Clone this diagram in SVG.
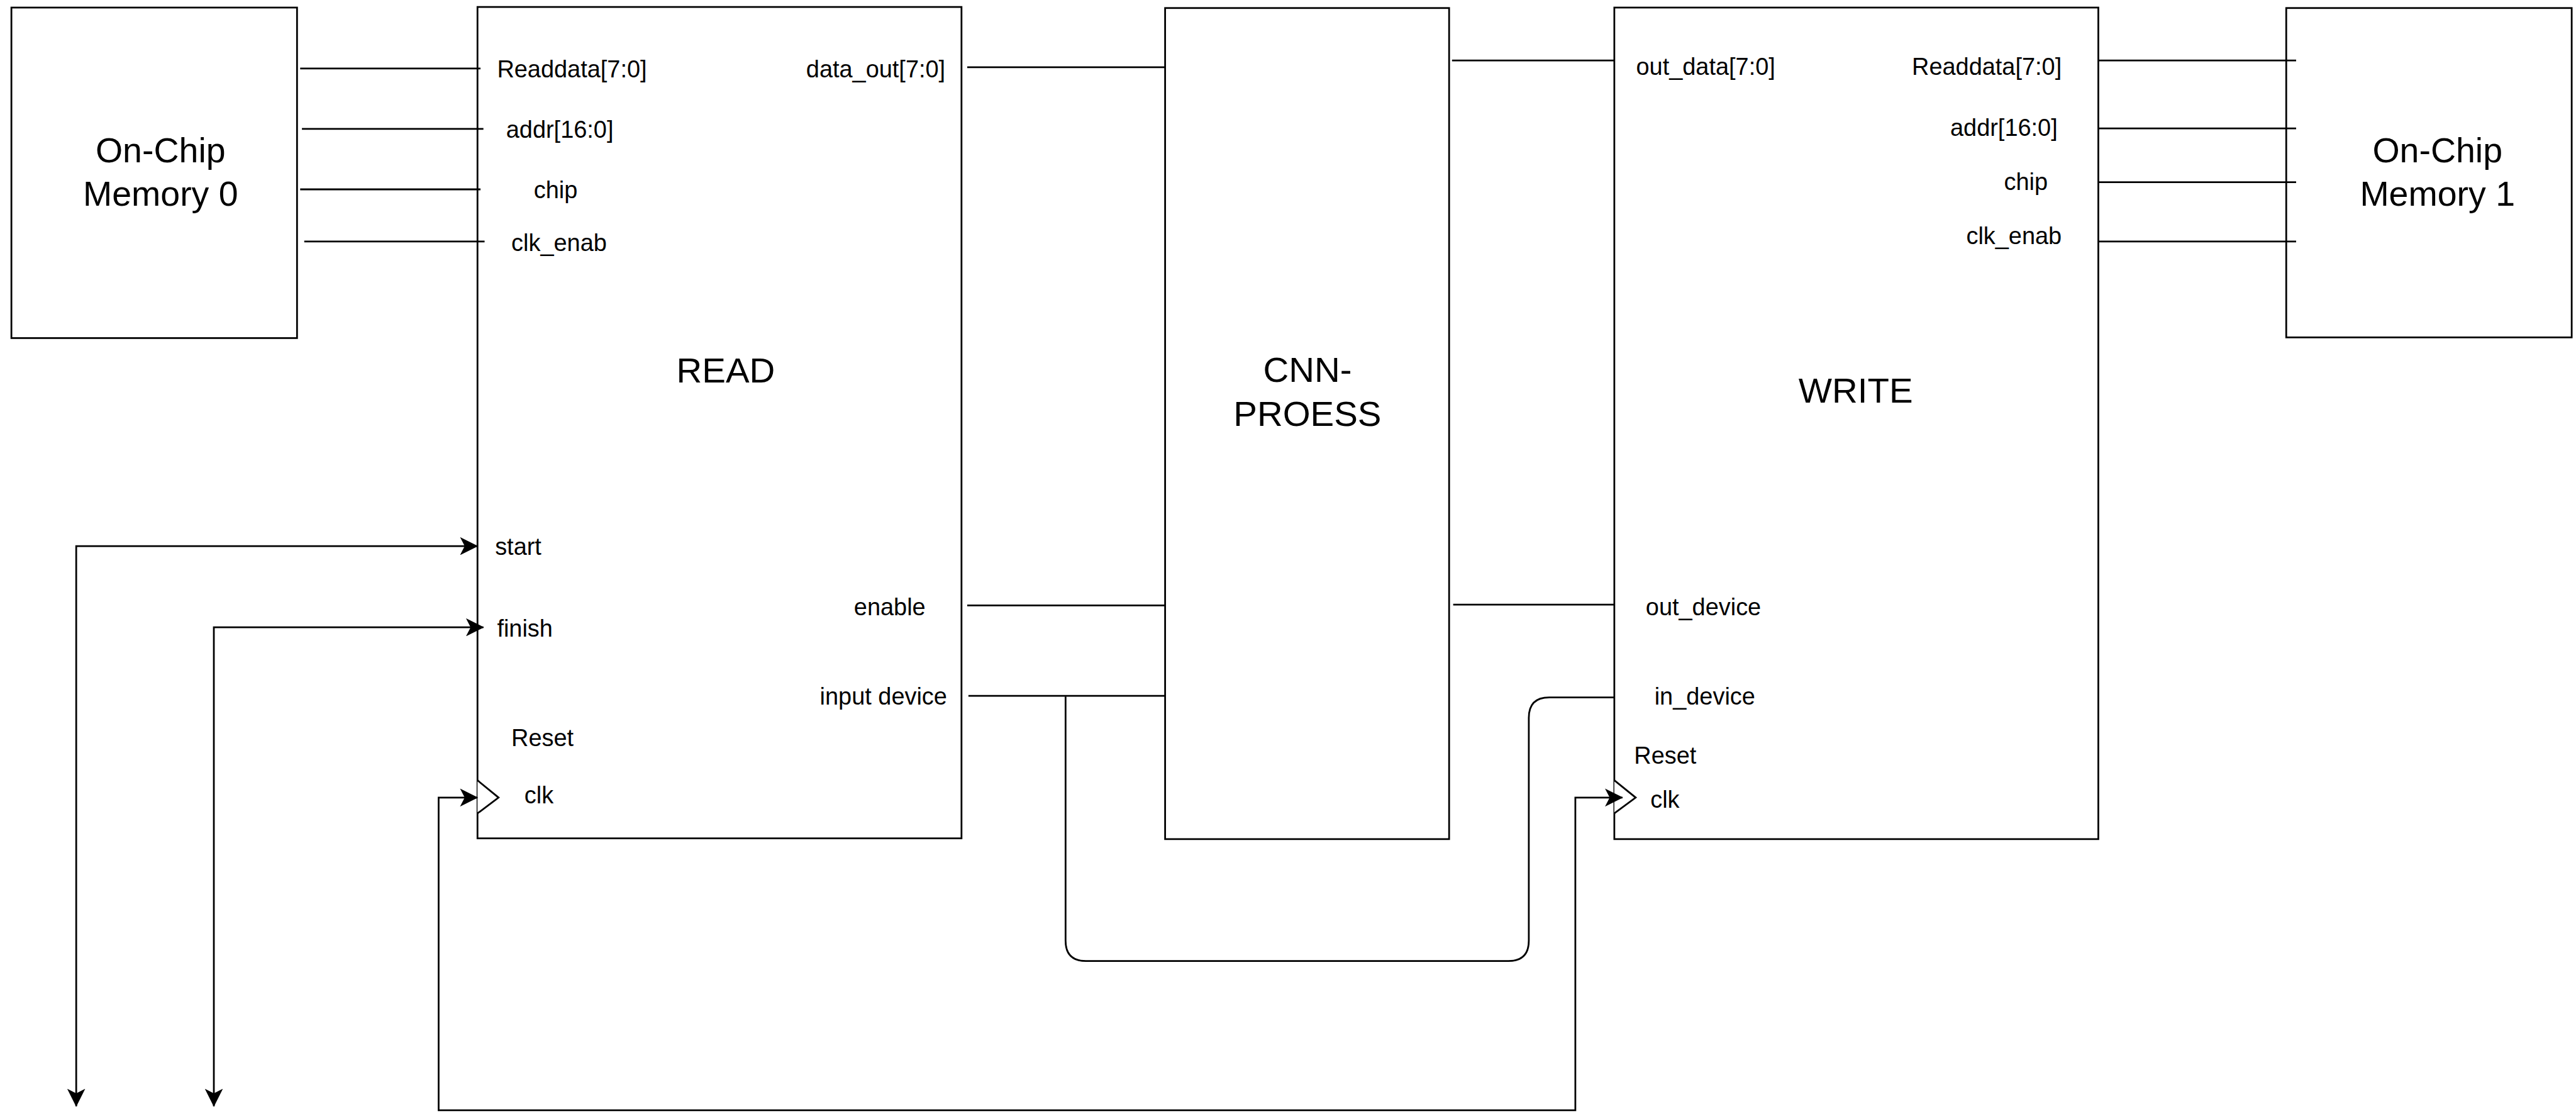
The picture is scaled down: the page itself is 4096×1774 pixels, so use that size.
<svg xmlns="http://www.w3.org/2000/svg" width="4096" height="1774" viewBox="0 0 4096 1774">
<defs>
<style>
.box{fill:#fff;stroke:#000;stroke-width:3}
.w{fill:none;stroke:#000;stroke-width:3}
.lbl{font-family:"Liberation Sans",Arial,sans-serif;font-size:41px;fill:#000}
.end{text-anchor:end}
.ttl{font-family:"Liberation Sans",Arial,sans-serif;font-size:61px;fill:#000;text-anchor:middle}
.mem{font-family:"Liberation Sans",Arial,sans-serif;font-size:60px;fill:#000;text-anchor:middle}
.arr{marker-start:url(#ah);marker-end:url(#ah)}
</style>
<marker id="ah" markerUnits="userSpaceOnUse" markerWidth="31" markerHeight="31" viewBox="0 0 31 31" refX="30" refY="15.5" orient="auto-start-reverse">
<path d="M0,0 L31,15.5 L0,31 L8,15.5 Z" fill="#000"/>
</marker>
</defs>
<rect width="4096" height="1774" fill="#fff"/>
<g transform="scale(0.925)">
<g id="mem0">
<rect class="box" x="19.6" y="13" width="491" height="568"/>
<text class="mem" x="276" y="279">On-Chip</text>
<text class="mem" x="276" y="353">Memory 0</text>
</g>
<g id="read">
<rect class="box" x="820.8" y="12" width="832" height="1428.7"/>
<text class="ttl" x="1247.5" y="657.7">READ</text>
<text class="lbl" x="854.5" y="132.5">Readdata[7:0]</text>
<text class="lbl" x="870" y="237">addr[16:0]</text>
<text class="lbl" x="917.6" y="341">chip</text>
<text class="lbl" x="879" y="431">clk_enab</text>
<text class="lbl" x="851" y="954">start</text>
<text class="lbl" x="854.5" y="1093.6">finish</text>
<text class="lbl" x="879" y="1282">Reset</text>
<text class="lbl" x="901.5" y="1381">clk</text>
<text class="lbl end" x="1625" y="132.5">data_out[7:0]</text>
<text class="lbl end" x="1591" y="1057.5">enable</text>
<text class="lbl end" x="1628" y="1210.7">input device</text>
<polyline class="box" points="820.8,1341 857,1370.6 820.8,1397.8"/>
</g>
<g id="cnn">
<rect class="box" x="2002.8" y="13.8" width="488.2" height="1428.2"/>
<text class="ttl" x="2247.5" y="656.7">CNN-</text>
<text class="ttl" x="2247.5" y="731.7">PROESS</text>
</g>
<g id="write">
<rect class="box" x="2775" y="13" width="832" height="1429"/>
<text class="ttl" x="3190" y="691.7">WRITE</text>
<text class="lbl" x="2812.4" y="128.5">out_data[7:0]</text>
<text class="lbl end" x="3544" y="128.5">Readdata[7:0]</text>
<text class="lbl end" x="3537" y="233">addr[16:0]</text>
<text class="lbl end" x="3520" y="327">chip</text>
<text class="lbl end" x="3544" y="419">clk_enab</text>
<text class="lbl" x="2829" y="1057.5">out_device</text>
<text class="lbl" x="2844" y="1210.7">in_device</text>
<text class="lbl" x="2809" y="1312.7">Reset</text>
<text class="lbl" x="2837" y="1387.6">clk</text>
<polyline class="box" points="2775,1341 2811.7,1370.6 2775,1397.8"/>
</g>
<g id="mem1">
<rect class="box" x="3930" y="13.8" width="490.7" height="566"/>
<text class="mem" x="4190" y="279">On-Chip</text>
<text class="mem" x="4190" y="353">Memory 1</text>
</g>
<g id="connectors">
<path class="w" d="M516,117.8 H826 M519,221.4 H831 M516,325.4 H826 M523,415 H833"/>
<path class="w" d="M1662.6,115.5 H2002.8 M1662.6,1040.5 H2002.8 M1664.7,1195.7 H2002.8"/>
<path class="w" d="M2496,104 H2775 M2498,1039 H2775"/>
<path class="w" d="M3607,104 H3947 M3607,220.6 H3947 M3607,313 H3947 M3607,415 H3947"/>
<path class="w" d="M1831.7,1197 V1616.6 Q1831.7,1651.6 1866.7,1651.6 H2593 Q2628,1651.6 2628,1616.6 V1233.4 Q2628,1198.4 2663,1198.4 H2775"/>
<path class="w arr" d="M131,1901 V938.5 H820.8"/>
<path class="w arr" d="M367.6,1901 V1078 H831"/>
<path class="w arr" d="M820.8,1370.6 H754 V1908 H2708 V1370.6 H2789"/>
</g>
</g>
</svg>
